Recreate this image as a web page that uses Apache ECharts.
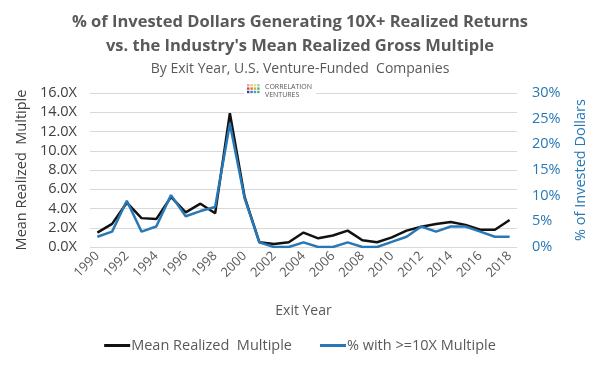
<!DOCTYPE html>
<html><head><meta charset="utf-8">
<script src="https://cdn.jsdelivr.net/npm/echarts@6/dist/echarts.min.js"></script>
<style>html,body{margin:0;padding:0;background:#fff}#c{width:600px;height:367px}</style>
</head><body><div id="c"></div>
<script>
var years = ['1990','1991','1992','1993','1994','1995','1996','1997','1998','1999','2000','2001','2002','2003','2004','2005','2006','2007','2008','2009','2010','2011','2012','2013','2014','2015','2016','2017','2018'];
var meanMultiple = [1.5,2.4,4.6,3.0,2.9,5.2,3.6,4.5,3.5,13.9,5.2,0.5,0.3,0.5,1.5,0.9,1.2,1.7,0.7,0.5,1.0,1.7,2.1,2.4,2.6,2.3,1.8,1.8,2.8];
var pct10x = [2.0,3.0,9.0,3.0,4.0,10.1,6.0,7.0,7.8,24.0,9.5,0.9,0,0,0.9,0,0,0.9,0,0,1.0,2.0,4.0,3.0,4.0,4.0,3.0,2.0,2.0];
var leftTicks = [0,2,4,6,8,10,12,14,16];
var rightTicks = [0,5,10,15,20,25,30];

var FONT = '"Open Sans", "Liberation Sans", sans-serif';
var BLUE = '#2878b5';
var chart = echarts.init(document.getElementById('c'));
var gfx = [{type:'rect', shape:{x:244, y:81, width:72, height:19}, style:{fill:'#fff'}, z:10}];
var dotColors = ['#e8a0a0','#f0c080','#e0e080','#a0d0a0','#c05050','#e07040','#d0b040','#60b060','#404080','#5070c0','#40a0c0','#50b090'];
for (var r = 0; r < 3; r++) for (var k = 0; k < 4; k++) {
  gfx.push({type:'rect', z:11, shape:{x:247 + k*3.4, y:84 + r*3.4, width:2.4, height:2.4}, style:{fill:dotColors[r*4+k]}});
}
gfx.push({type:'text', z:11, left:265, top:83, style:{text:'CORRELATION', fontSize:7, fill:'#555', fontFamily:FONT}});
gfx.push({type:'text', z:11, left:265, top:91, style:{text:'VENTURES', fontSize:7, fill:'#555', fontFamily:FONT}});

chart.setOption({
  animation:false,
  backgroundColor:'#fff',
  textStyle:{fontFamily:FONT},
  title:[
    {text:"% of Invested Dollars Generating 10X+ Realized Returns\nvs. the Industry's Mean Realized Gross Multiple",
     left:'center', top:5,
     textStyle:{fontFamily:FONT, fontSize:16.5, fontWeight:'bold', color:'#595959', lineHeight:24}},
    {text:'By Exit Year, U.S. Venture-Funded  Companies', left:'center', top:57,
     textStyle:{fontFamily:FONT, fontSize:14, fontWeight:'normal', color:'#595959'}}
  ],
  graphic:gfx,
  legend:{
    bottom:9, left:'center', itemGap:28, itemWidth:26, itemHeight:3, icon:'rect',
    textStyle:{fontFamily:FONT, fontSize:14.5, color:'#595959', padding:[0,0,0,-4]},
    data:['Mean Realized  Multiple','% with >=10X Multiple']
  },
  grid:{left:90, right:83, top:93, bottom:120},
  xAxis:{
    type:'category', data:years, boundaryGap:true,
    name:'Exit Year', nameLocation:'middle', nameGap:57,
    nameTextStyle:{fontFamily:FONT, fontSize:14, color:'#595959'},
    axisLine:{show:false}, axisTick:{show:false},
    axisLabel:{interval:1, rotate:45, fontSize:13, color:'#595959', margin:7, fontFamily:FONT}
  },
  yAxis:[
    {type:'value', min:0, max:16, interval:2,
     name:'Mean Realized  Multiple', nameLocation:'middle', nameGap:60, nameRotate:90,
     nameTextStyle:{fontFamily:FONT, fontSize:14.5, color:'#404040'},
     axisLine:{show:false}, axisTick:{show:false},
     axisLabel:{fontSize:14.5, color:'#404040', margin:13, fontFamily:FONT,
       formatter:function(v){return v.toFixed(1)+'X';}},
     splitLine:{lineStyle:{color:'#d9d9d9', width:1}}},
    {type:'value', min:0, max:30, interval:5, position:'right',
     name:'% of Invested Dollars', nameLocation:'middle', nameGap:56, nameRotate:90,
     nameTextStyle:{fontFamily:FONT, fontSize:14.5, color:BLUE},
     axisLine:{show:false}, axisTick:{show:false},
     axisLabel:{fontSize:14.5, color:BLUE, margin:15, fontFamily:FONT,
       formatter:function(v){return v+'%';}},
     splitLine:{show:false}}
  ],
  series:[
    {name:'Mean Realized  Multiple', type:'line', yAxisIndex:0, data:meanMultiple,
     symbol:'none', lineStyle:{color:'#111', width:2.5}, itemStyle:{color:'#111'}, z:2},
    {name:'% with >=10X Multiple', type:'line', yAxisIndex:1, data:pct10x,
     symbol:'none', lineStyle:{color:BLUE, width:2.5}, itemStyle:{color:BLUE}, z:3}
  ]
});
</script></body></html>
